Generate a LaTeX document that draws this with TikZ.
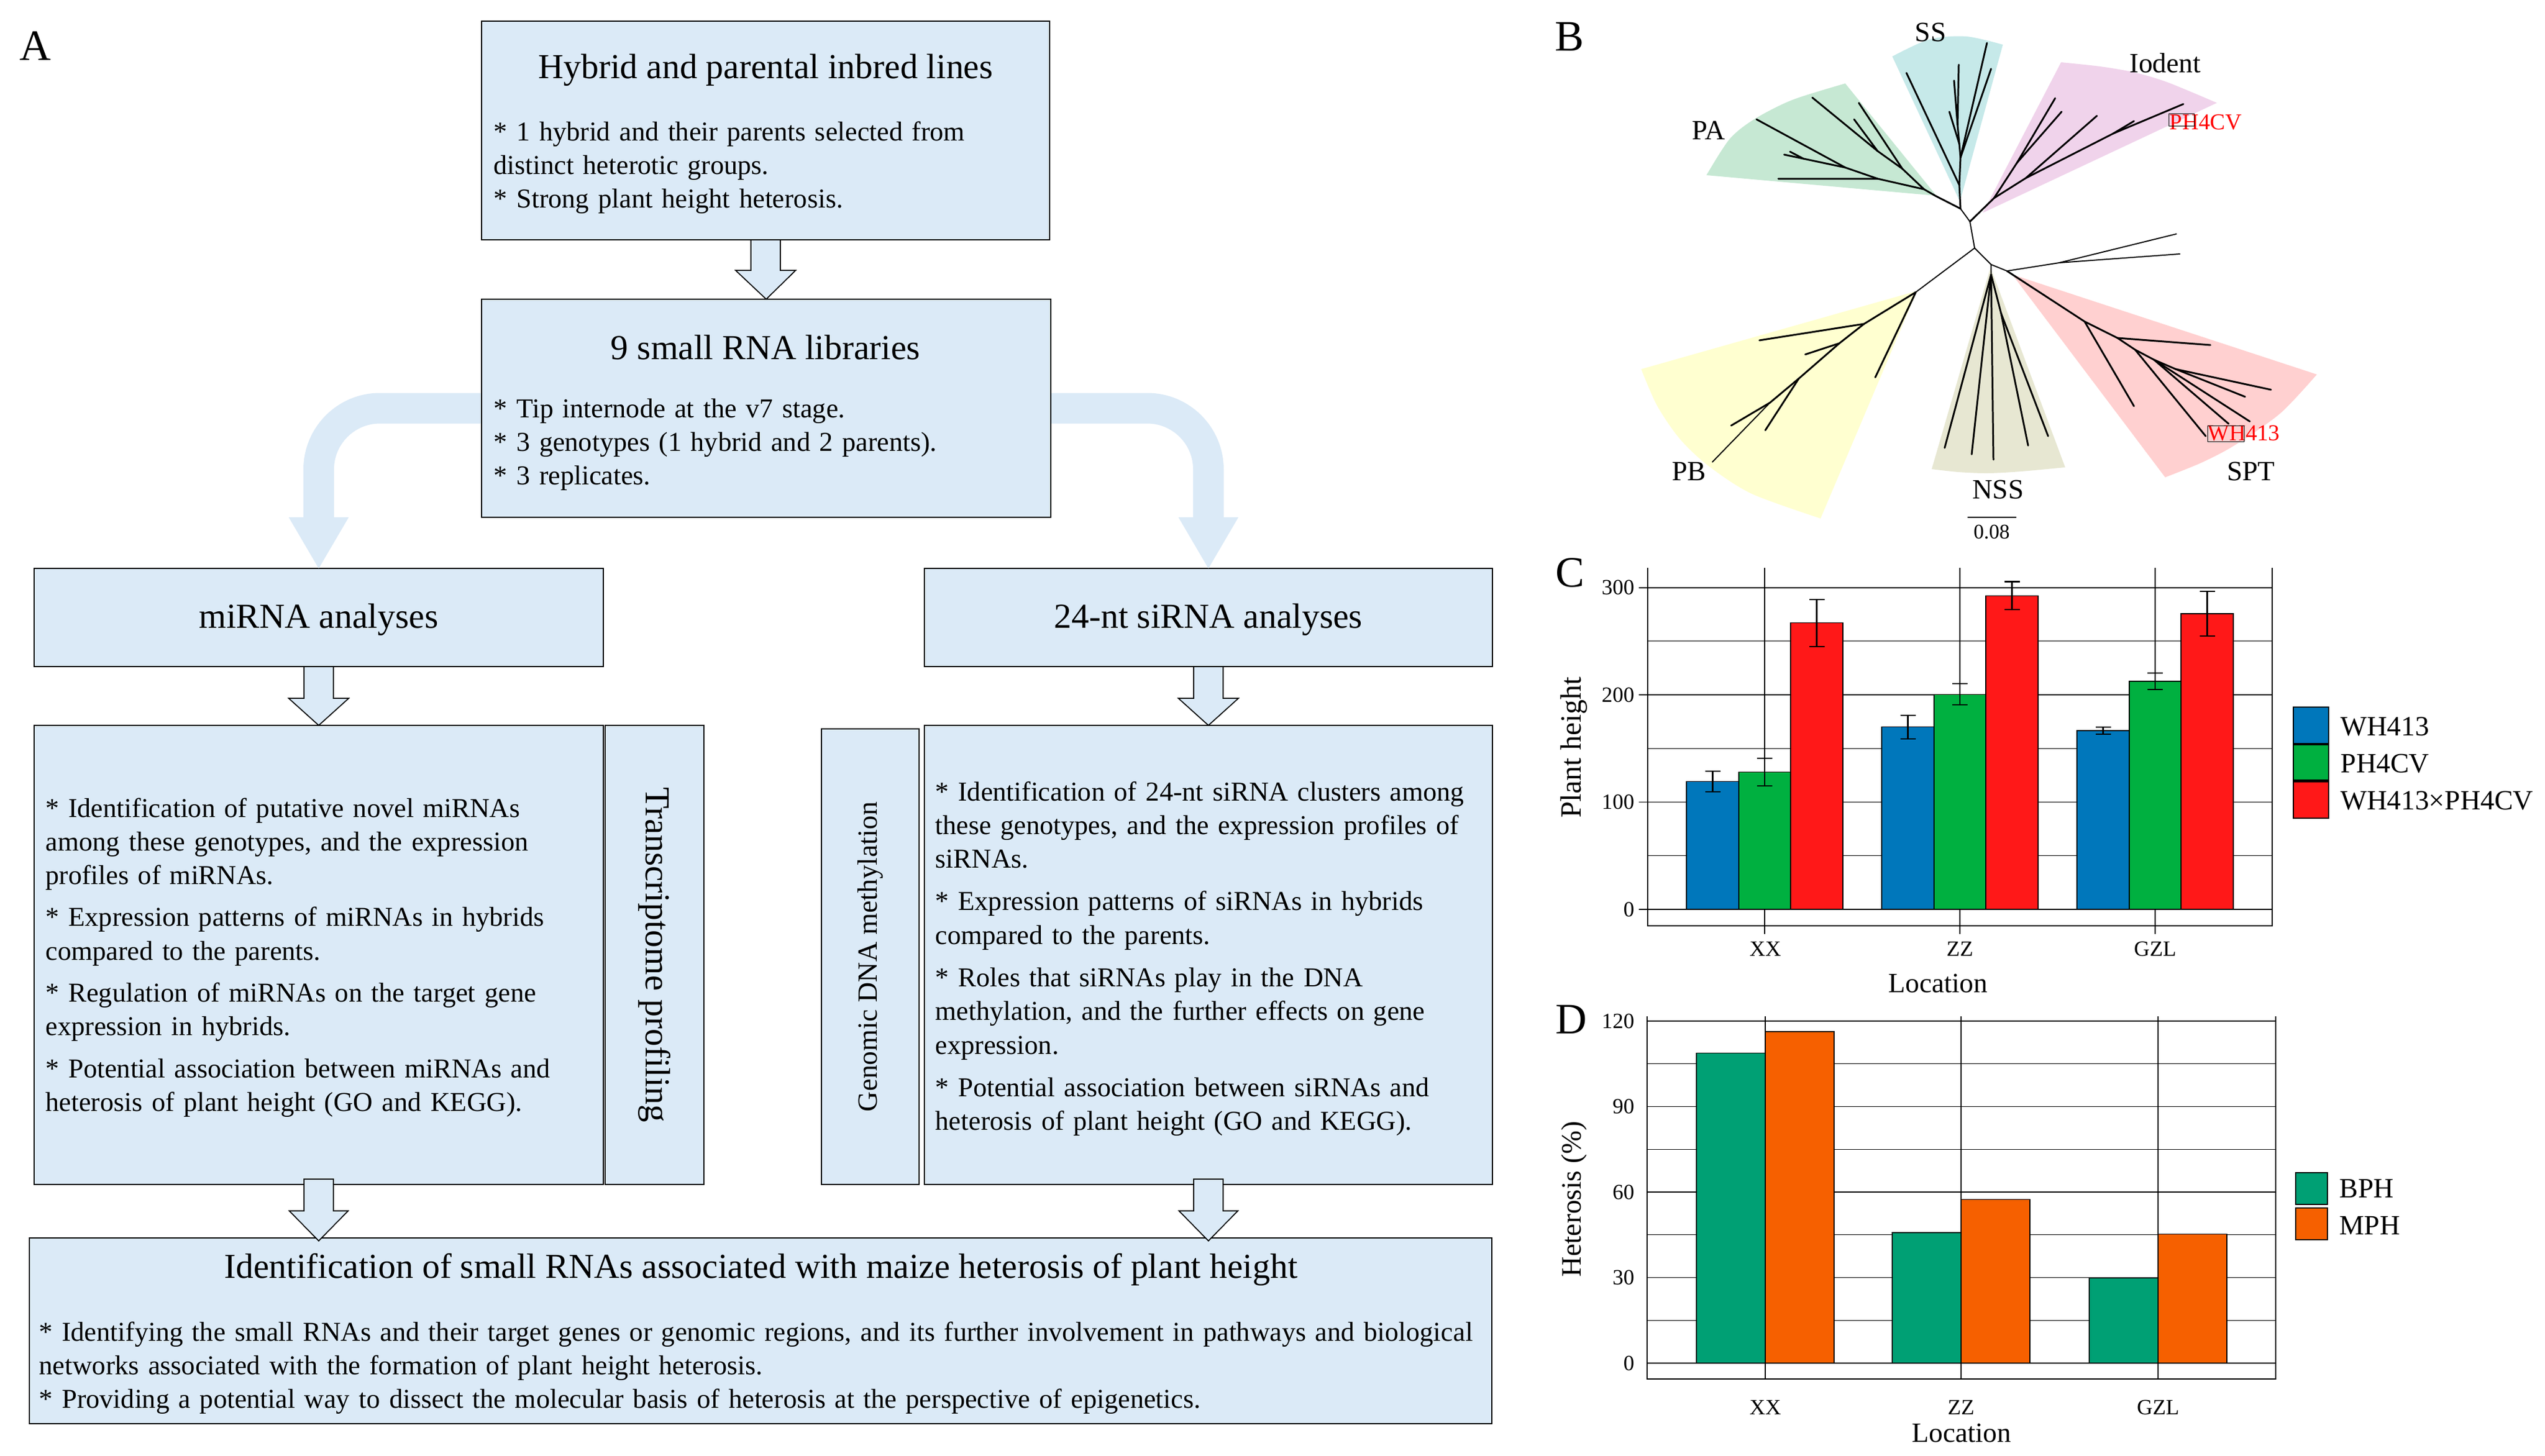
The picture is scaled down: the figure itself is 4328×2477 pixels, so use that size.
\documentclass[tikz,border=0pt]{standalone}
\usepackage{fontspec}
\setmainfont{Liberation Serif}
\usetikzlibrary{calc}
\definecolor{boxblue}{RGB}{219,234,247}
\definecolor{wPA}{RGB}{198,232,211}
\definecolor{wSS}{RGB}{198,233,233}
\definecolor{wIO}{RGB}{240,211,235}
\definecolor{wPB}{RGB}{255,255,208}
\definecolor{wNSS}{RGB}{231,231,210}
\definecolor{wSPT}{RGB}{255,208,208}
\definecolor{cblue}{RGB}{0,119,187}
\definecolor{cgreen}{RGB}{0,176,64}
\definecolor{cred}{RGB}{255,24,24}
\definecolor{dteal}{RGB}{0,160,116}
\definecolor{dorange}{RGB}{246,96,0}
\begin{document}
\begin{tikzpicture}[x=0.1mm,y=-0.1mm,
  box/.style={draw=black,line width=0.6pt,fill=boxblue,inner sep=0pt,outer sep=0pt,anchor=north west},
  ttl/.style={font=\fontsize{17}{20.4}\selectfont,inner sep=0pt},
  body/.style={font=\fontsize{13.2}{16.3}\selectfont,inner sep=0pt,align=left,anchor=base west,text width=#1},
  vtxt/.style={inner sep=0pt,anchor=center},
  blockarrow/.style={draw=black,line width=0.5pt,fill=boxblue},
  band/.style={line width=5.2mm,draw=boxblue,rounded corners=10.4mm},
  panel/.style={font=\fontsize{21}{24}\selectfont,inner sep=0pt},
  br/.style={line width=0.85pt,line cap=round},
  brt/.style={line width=0.55pt,line cap=round},
  tlab/.style={font=\fontsize{13.5}{16}\selectfont,inner sep=0pt},
  rlab/.style={font=\fontsize{11}{13}\selectfont,inner sep=0pt,text=red},
  tick/.style={font=\fontsize{10.5}{12}\selectfont,inner sep=0pt},
  axt/.style={font=\fontsize{13.5}{16}\selectfont,inner sep=0pt},
  yt/.style={inner sep=0pt,rotate=90},
  legbox/.style={draw=black,line width=0.8pt,inner sep=0pt},
  legtxt/.style={font=\fontsize{13.5}{16}\selectfont,inner sep=0pt,anchor=west},
  gmaj/.style={line width=0.55pt},
  gmin/.style={line width=0.35pt},
  bar/.style={draw=black,line width=0.35pt},
  err/.style={line width=0.6pt}
]
\useasboundingbox (0,0) rectangle (4328,2477);
\fill[white] (0,0) rectangle (4328,2477);

% ================= Panel A =================
\node[panel] (lblA) at (60,78) {A};

\coordinate (b2w) at (819,694.5);
\coordinate (b2e) at (1787,694.5);

% curved bands behind box 2
\draw[band] (b2w) -- (542,694.5) -- (542,882);
\draw[band] (b2e) -- (2055,694.5) -- (2055,882);

\node[box,minimum width=96.6mm,minimum height=37.2mm] (b1) at (819,36) {};
\node[box,minimum width=96.8mm,minimum height=37.1mm] (b2) at (819,509) {};
\node[box,minimum width=96.8mm,minimum height=16.7mm] (bmi) at (58,967) {};
\node[box,minimum width=96.6mm,minimum height=16.7mm] (bsi) at (1572,967) {};
\node[box,minimum width=96.8mm,minimum height=78.1mm] (bmd) at (58,1234) {};
\node[box,minimum width=16.8mm,minimum height=78.1mm] (btp) at (1029,1234) {};
\node[box,minimum width=16.6mm,minimum height=77.5mm] (bgd) at (1397,1240) {};
\node[box,minimum width=96.6mm,minimum height=78.1mm] (bsd) at (1572,1234) {};
\node[box,minimum width=248.7mm,minimum height=31.6mm] (bf) at (50,2106) {};

% heads of curved arrows
\fill[boxblue] ($(bmi.north)+(-51,-87)$) -- ($(bmi.north)+(51,-87)$) -- (bmi.north) -- cycle;
\fill[boxblue] ($(bsi.north)+(-51,-87)$) -- ($(bsi.north)+(51,-87)$) -- (bsi.north) -- cycle;

% texts
\node[ttl] (t1) at (1302,119) {Hybrid and parental inbred lines};
\node[body=120mm] (x1) at (839,239) {* 1 hybrid and their parents selected from\\distinct heterotic groups.\\{}* Strong plant height heterosis.};
\node[ttl] (t2) at (1302,591) {9 small RNA libraries};
\node[body=120mm] (x2) at (839,710) {* Tip internode at the v7 stage.\\{}* 3 genotypes (1 hybrid and 2 parents).\\{}* 3 replicates.};
\node[ttl] (tmi) at (542,1054) {miRNA analyses};
\node[ttl] (tsi) at (2055,1054) {24-nt siRNA analyses};
\node[body=120mm] (xmd) at (77,1390) {* Identification of putative novel miRNAs\\among these genotypes, and the expression\\profiles of miRNAs.\\[1.4mm]* Expression patterns of miRNAs in hybrids\\compared to the parents.\\[1.4mm]* Regulation of miRNAs on the target gene\\expression in hybrids.\\[1.4mm]* Potential association between miRNAs and\\heterosis of plant height (GO and KEGG).};
\node[body=120mm] (xsd) at (1590,1362) {* Identification of 24-nt siRNA clusters among\\these genotypes, and the expression profiles of\\siRNAs.\\[1.5mm]* Expression patterns of siRNAs in hybrids\\compared to the parents.\\[1.5mm]* Roles that siRNAs play in the DNA\\methylation, and the further effects on gene\\expression.\\[1.5mm]* Potential association between siRNAs and\\heterosis of plant height (GO and KEGG).};
\node[vtxt,rotate=-90,font=\fontsize{17}{20}\selectfont] (xtp) at (btp.center) {Transcriptome profiling};
\node[vtxt,rotate=90,font=\fontsize{13.5}{16}\selectfont] (xgd) at (bgd.center) {Genomic DNA methylation};
\node[ttl] (tf) at (1294,2160) {Identification of small RNAs associated with maize heterosis of plant height};
\node[body=260mm] (xf) at (66,2281) {* Identifying the small RNAs and their target genes or genomic regions, and its further involvement in pathways and biological\\networks associated with the formation of plant height heterosis.\\{}* Providing a potential way to dissect the molecular basis of heterosis at the perspective of epigenetics.};

% block arrows
\draw[blockarrow] ($(b1.south)+(-25,0)$) -- ($(b1.south)+(-25,52)$) -- ($(b1.south)+(-51,52)$) -- (b2.north) -- ($(b1.south)+(51,52)$) -- ($(b1.south)+(25,52)$) -- ($(b1.south)+(25,0)$) -- cycle;
\draw[blockarrow] ($(bmi.south)+(-25,0)$) -- ($(bmi.south)+(-25,54)$) -- ($(bmi.south)+(-51,54)$) -- (bmd.north) -- ($(bmi.south)+(51,54)$) -- ($(bmi.south)+(25,54)$) -- ($(bmi.south)+(25,0)$) -- cycle;
\draw[blockarrow] ($(bsi.south)+(-25,0)$) -- ($(bsi.south)+(-25,54)$) -- ($(bsi.south)+(-51,54)$) -- (bsd.north) -- ($(bsi.south)+(51,54)$) -- ($(bsi.south)+(25,54)$) -- ($(bsi.south)+(25,0)$) -- cycle;
\coordinate (tipL) at ($(bmd.south |- bf.north)+(0,5)$);
\coordinate (tipR) at ($(bsd.south |- bf.north)+(0,5)$);
\draw[blockarrow] ($(bmd.south)+(-25,-9)$) -- ($(bmd.south)+(-25,45)$) -- ($(bmd.south)+(-50,45)$) -- (tipL) -- ($(bmd.south)+(50,45)$) -- ($(bmd.south)+(25,45)$) -- ($(bmd.south)+(25,-9)$) -- cycle;
\draw[blockarrow] ($(bsd.south)+(-25,-9)$) -- ($(bsd.south)+(-25,45)$) -- ($(bsd.south)+(-50,45)$) -- (tipR) -- ($(bsd.south)+(50,45)$) -- ($(bsd.south)+(25,45)$) -- ($(bsd.south)+(25,-9)$) -- cycle;

% ================= Panel B (tree) =================
\node[panel] (lblB) at (2669,62) {B};
\fill[wPA] (3293,333) -- plot[smooth] coordinates {(2902,298) (2941,237) (2983,203) (3048,170) (3138,142)} -- cycle;
\fill[wSS] (3333,343) -- plot[smooth] coordinates {(3218,96) (3281,67) (3344,62) (3406,76)} -- cycle;
\fill[wIO] (3372,362) -- plot[smooth] coordinates {(3505,106) (3571,113) (3629,123) (3686,140) (3770,175)} -- cycle;
\fill[wPB] (3260,495) -- plot[smooth] coordinates {(2791,628) (2818,690) (2857,747) (2906,793) (2979,840) (3096,882)} -- cycle;
\fill[wNSS] (3385,455) -- plot[smooth] coordinates {(3285,798) (3330,803) (3380,805) (3437,802) (3512,795)} -- cycle;
\fill[wSPT] (3422,467) -- plot[smooth] coordinates {(3940,637) (3878,703) (3801,757) (3744,787) (3682,812)} -- cycle;

\coordinate (n1) at (3334,355);
\coordinate (n2) at (3350,377);
\coordinate (n3) at (3358,422);
\coordinate (n4) at (3386,450);
\coordinate (n5) at (3413,461);
\coordinate (a0) at (3291,333);
\coordinate (b0) at (3272,322);
\coordinate (c0) at (3193,304);
\coordinate (d0) at (3138,285);
\coordinate (f0) at (3235,287);
\coordinate (g0) at (3193,257);
\coordinate (s0) at (3332,315);
\coordinate (s1) at (3334,268);
\coordinate (s2) at (3332,245);
\coordinate (s3) at (3329,213);
\coordinate (i0) at (3391,337);
\coordinate (ia) at (3430,277);
\coordinate (ib) at (3445,303);
\coordinate (ic) at (3594,227);
\coordinate (p0) at (3258,497);
\coordinate (p1) at (3170,551);
\coordinate (p2) at (3128,584);
\coordinate (p3) at (3059,644);
\coordinate (p4) at (3010,685);
\coordinate (q0) at (3386,467);
\coordinate (q2) at (3403,533);
\coordinate (r0) at (3545,547);
\coordinate (r1) at (3601,575);
\coordinate (r2) at (3631,595);
\coordinate (r3) at (3663,612);
\coordinate (r4) at (3700,628);
\coordinate (o0) at (3502,447);

\draw[brt] (n1) -- (n2) -- (n3) -- (n4) -- (n5);
\draw[brt] (n3) -- (p0);
\draw[brt] (n5) -- (o0) -- (3701,398);
\draw[brt] (o0) -- (3707,432);
% PA
\draw[br] (n1) -- (a0) -- (b0) -- (c0) -- (3024,304);
\draw[br] (c0) -- (d0) -- (3034,263);
\draw[br] (d0) -- (2987,203);
\draw[br] (3067,270) -- (3044,258);
\draw[br] (b0) -- (f0) -- (g0) -- (3082,166);
\draw[br] (f0) -- (3161,175);
\draw[br] (g0) -- (3153,203);
% SS
\draw[br] (n1) -- (s0) -- (3242,124);
\draw[br] (s0) -- (s1) -- (3379,73);
\draw[br] (s1) -- (3386,117);
\draw[br] (s1) -- (s2) -- (3315,190);
\draw[br] (s2) -- (s3) -- (3323,137);
\draw[br] (s3) -- (3331,110);
% Iodent
\draw[br] (n2) -- (i0) -- (ia) -- (3495,167);
\draw[br] (ia) -- (3506,190);
\draw[br] (i0) -- (ib) -- (3566,197);
\draw[br] (ib) -- (ic) -- (3713,177);
\draw[br] (ic) -- (3629,206);
% PB
\draw[br] (p0) -- (p1) -- (2992,579);
\draw[br] (p1) -- (p2) -- (3070,603);
\draw[br] (p2) -- (p3) -- (3002,732);
\draw[br] (p3) -- (p4) -- (2944,724);
\draw[brt] (p4) -- (2912,786);
\draw[br] (p0) -- (3189,642);
% NSS
\draw[brt] (n4) -- (q0);
\draw[br] (q0) -- (3307,762);
\draw[br] (q0) -- (3353,773);
\draw[br] (q0) -- (3390,782);
\draw[br] (q0) -- (q2) -- (3449,758);
\draw[br] (q2) -- (3483,742);
% SPT
\draw[br] (n5) -- (r0) -- (r1) -- (r2) -- (r3) -- (r4) -- (3862,663);
\draw[br] (r0) -- (3629,691);
\draw[br] (r1) -- (3759,587);
\draw[br] (r2) -- (3751,742);
\draw[br] (r3) -- (3790,721);
\draw[br] (r3) -- (3826,717);
\draw[br] (r4) -- (3818,675);

\node[tlab] (lSS) at (3283,55) {SS};
\node[tlab] (lPA) at (2906,222) {PA};
\node[tlab] (lIO) at (3682,107) {Iodent};
\node[tlab] (lPB) at (2872,802) {PB};
\node[tlab] (lNSS) at (3398,833) {NSS};
\node[tlab] (lSPT) at (3828,802) {SPT};
\node[rlab] (lPH) at (3751,208) {PH4CV};
\node[rlab] (lWH) at (3816,737) {WH413};
\draw[line width=0.25pt] (3688,193) rectangle (3731,214);
\draw[line width=0.25pt] (3754,724) rectangle (3816,751);
\coordinate (sb1) at (3346,880);
\coordinate (sb2) at (3429,880);
\draw[line width=0.6pt] (sb1) -- (sb2);
\node[tick,font=\fontsize{10}{12}\selectfont] (lsb) at (3387,905) {0.08};

% ================= Panel C =================
\node[panel] (lblC) at (2670,974) {C};
\begin{scope}[shift={(0,1547)},y=0.1825mm]
  \foreach \v in {50,150,250} \draw[gmin] (2802,\v) -- (3864,\v);
  \foreach \v in {0,100,200,300} {
    \draw[gmaj] (2787,\v) -- (3864,\v);
    \node[tick,anchor=east] (cy\v) at (2780,\v) {\v};
  }
  \foreach \c in {3001,3333,3665} \draw[gmin] (\c,318.5) -- (\c,-23);
  \foreach \c/\b/\be/\g/\ge/\r/\re in {3001/119.2/9.6/128/13/267/22, 3333/170/11/200.5/10/292.5/13, 3665/166.6/3.3/212.6/7.7/275.6/21} {
    \fill[cblue] (\c-133,0) rectangle (\c-44,\b);
    \draw[bar] (\c-133,0) rectangle (\c-44,\b);
    \fill[cgreen] (\c-44,0) rectangle (\c+44,\g);
    \draw[bar] (\c-44,0) rectangle (\c+44,\g);
    \fill[cred] (\c+44,0) rectangle (\c+133,\r);
    \draw[bar] (\c+44,0) rectangle (\c+133,\r);
    \draw[err] (\c-88.5,\b-\be) -- (\c-88.5,\b+\be);
    \draw[err] (\c-101.5,\b-\be) -- (\c-75.5,\b-\be);
    \draw[err] (\c-101.5,\b+\be) -- (\c-75.5,\b+\be);
    \draw[err] (\c,\g-\ge) -- (\c,\g+\ge);
    \draw[err] (\c-13,\g-\ge) -- (\c+13,\g-\ge);
    \draw[err] (\c-13,\g+\ge) -- (\c+13,\g+\ge);
    \draw[err] (\c+88.5,\r-\re) -- (\c+88.5,\r+\re);
    \draw[err] (\c+75.5,\r-\re) -- (\c+101.5,\r-\re);
    \draw[err] (\c+75.5,\r+\re) -- (\c+101.5,\r+\re);
  }
  \draw[gmaj] (2802,0) -- (3864,0);
  \draw[gmaj] (2802,318.5) -- (2802,-15.3) -- (3864,-15.3) -- (3864,318.5);
\end{scope}
\node[tick] (cxXX) at (3002,1614) {XX};
\node[tick] (cxZZ) at (3333,1614) {ZZ};
\node[tick] (cxGZL) at (3665,1614) {GZL};
\node[axt] (cxt) at (3296,1673) {Location};
\node[yt,font=\fontsize{14.2}{16}\selectfont] (cyt) at (2677,1272) {Plant height};
\node[legbox,fill=cblue,minimum width=6mm,minimum height=6.2mm] (lgc1) at (3930,1234) {};
\node[legbox,fill=cgreen,minimum width=6mm,minimum height=6.1mm] (lgc2) at (3930,1297) {};
\node[legbox,fill=cred,minimum width=6mm,minimum height=6.2mm] (lgc3) at (3930,1361) {};
\node[legtxt] (lct1) at (3980,1236) {WH413};
\node[legtxt] (lct2) at (3980,1299) {PH4CV};
\node[legtxt] (lct3) at (3980,1362) {WH413×PH4CV};

% ================= Panel D =================
\node[panel] (lblD) at (2672,1734) {D};
\begin{scope}[shift={(0,2319)},y=0.485mm]
  \foreach \v in {15,45,75,105} \draw[gmin] (2801,\v) -- (3870,\v);
  \foreach \v in {0,30,60,90,120} {
    \draw[gmaj] (2801,\v) -- (3870,\v);
    \node[tick,anchor=east] (dy\v) at (2780,\v) {\v};
  }
  \foreach \c in {3002,3335,3670} \draw[gmin] (\c,121.6) -- (\c,-5.6);
  \foreach \c/\b/\m in {3002/108.7/116.3, 3335/45.8/57.5, 3670/29.9/45.2} {
    \fill[dteal] (\c-117,0) rectangle (\c,\b);
    \draw[bar] (\c-117,0) rectangle (\c,\b);
    \fill[dorange] (\c,0) rectangle (\c+117,\m);
    \draw[bar] (\c,0) rectangle (\c+117,\m);
  }
  \draw[gmaj] (2801,0) -- (3870,0);
  \draw[gmaj] (2801,121.6) -- (2801,-5.6) -- (3870,-5.6) -- (3870,121.6);
\end{scope}
\node[tick] (dxXX) at (3002,2394) {XX};
\node[tick] (dxZZ) at (3335,2394) {ZZ};
\node[tick] (dxGZL) at (3670,2394) {GZL};
\node[axt] (dxt) at (3336,2438) {Location};
\node[yt,font=\fontsize{13.6}{16}\selectfont] (dyt) at (2677,2040) {Heterosis (\%)};
\node[legbox,fill=dteal,minimum width=5.4mm,minimum height=5.4mm] (lgd1) at (3931,2022) {};
\node[legbox,fill=dorange,minimum width=5.4mm,minimum height=5.4mm] (lgd2) at (3931,2082) {};
\node[legtxt] (ldt1) at (3978,2022) {BPH};
\node[legtxt] (ldt2) at (3978,2085) {MPH};
\end{tikzpicture}
\end{document}
